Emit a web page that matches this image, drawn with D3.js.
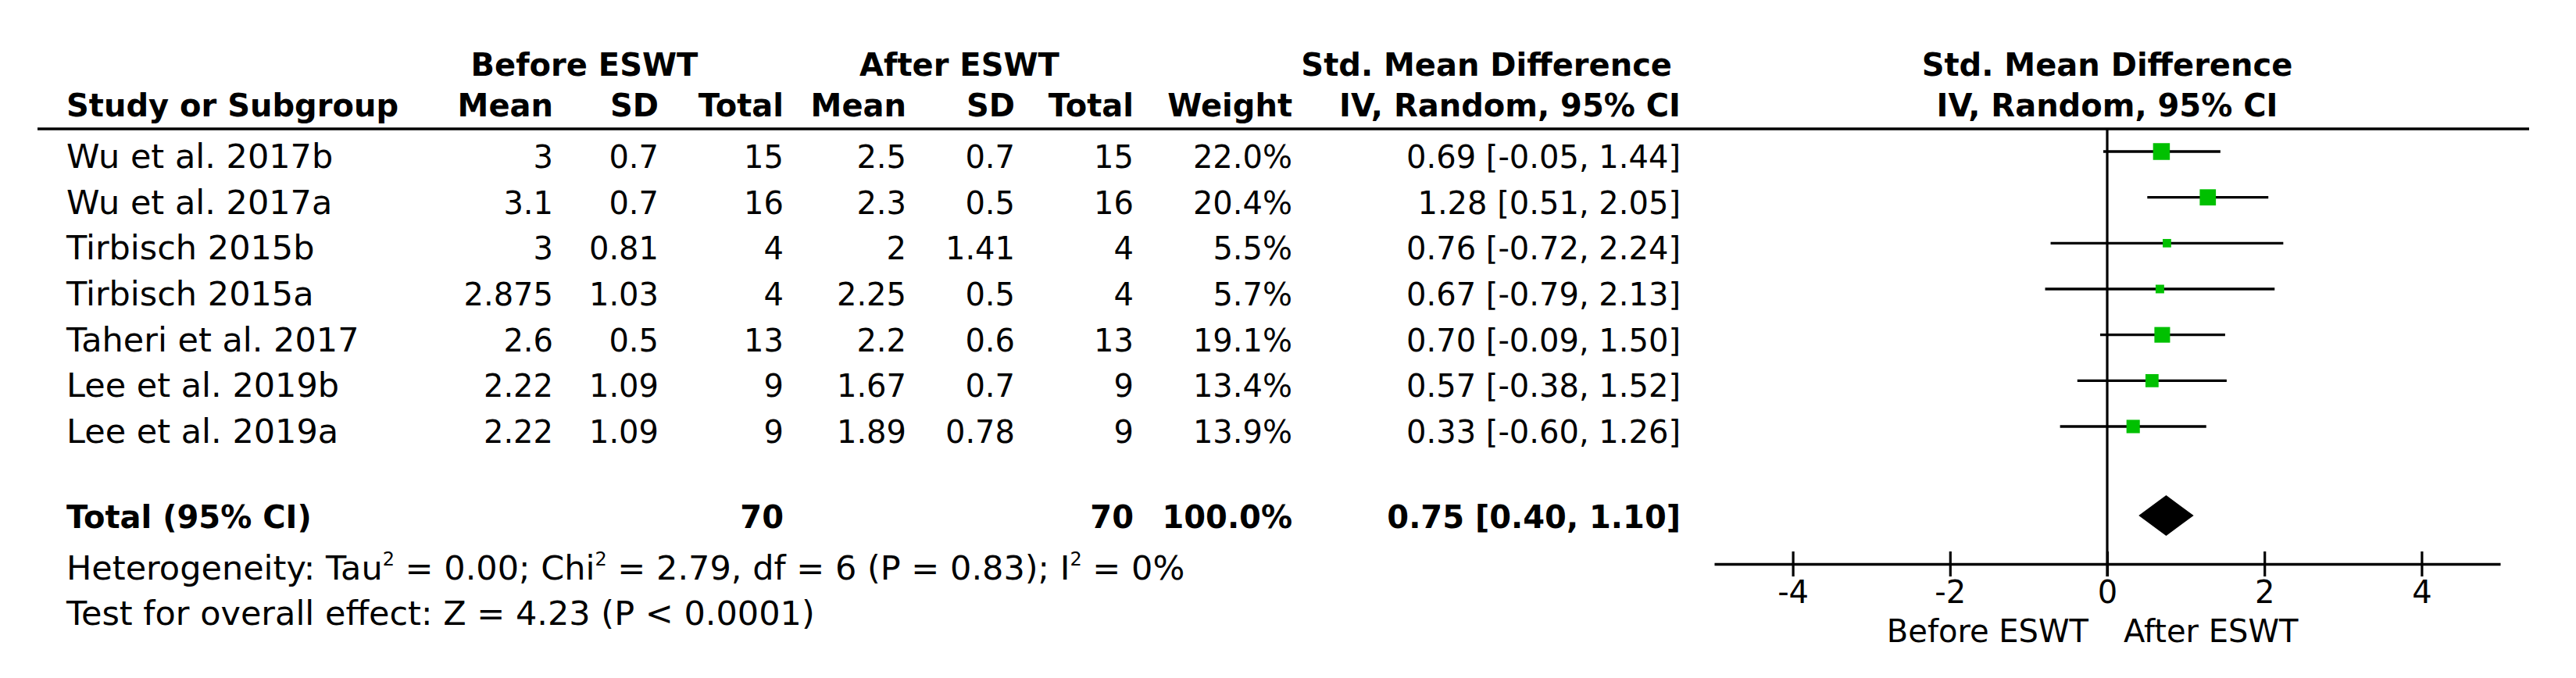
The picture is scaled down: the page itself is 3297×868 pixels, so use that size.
<!DOCTYPE html>
<html>
<head>
<meta charset="utf-8">
<script src="https://cdn.jsdelivr.net/npm/d3@7"></script>
<style>
  html, body { margin: 0; padding: 0; background: #fff; }
  svg text { font-family: "DejaVu Sans", Verdana, sans-serif; fill: #000; }
</style>
</head>
<body>
<svg id="chart" width="3297" height="868"></svg>
<script>
// ---------------- data ----------------
const studies    = ["Wu et al. 2017b", "Wu et al. 2017a", "Tirbisch 2015b", "Tirbisch 2015a", "Taheri et al. 2017", "Lee et al. 2019b", "Lee et al. 2019a"];
const beforeMean = [3, 3.1, 3, 2.875, 2.6, 2.22, 2.22];
const beforeSD   = [0.7, 0.7, 0.81, 1.03, 0.5, 1.09, 1.09];
const beforeN    = [15, 16, 4, 4, 13, 9, 9];
const afterMean  = [2.5, 2.3, 2, 2.25, 2.2, 1.67, 1.89];
const afterSD    = [0.7, 0.5, 1.41, 0.5, 0.6, 0.7, 0.78];
const afterN     = [15, 16, 4, 4, 13, 9, 9];
const weights    = [22.0, 20.4, 5.5, 5.7, 19.1, 13.4, 13.9];
const smd        = [0.69, 1.28, 0.76, 0.67, 0.70, 0.57, 0.33];
const ciLow      = [-0.05, 0.51, -0.72, -0.79, -0.09, -0.38, -0.60];
const ciHigh     = [1.44, 2.05, 2.24, 2.13, 1.50, 1.52, 1.26];
const totalBefore = 70, totalAfter = 70, totalWeight = 100.0;
const pooled = {est: 0.75, lo: 0.40, hi: 1.10};
const axisTicks = [-4, -2, 0, 2, 4];
const axisDomain = [-5, 5];
const heterogeneity = ["Heterogeneity: Tau", "2", " = 0.00; Chi", "2", " = 2.79, df = 6 (P = 0.83); I", "2", " = 0%"];
const overallTest = "Test for overall effect: Z = 4.23 (P < 0.0001)";
const favourLeft = "Before ESWT", favourRight = "After ESWT";

// ---------------- layout ----------------
const svg = d3.select("#chart");
const FS = 40;      // numbers, headers
const FS_NAME = 43; // study names and footnotes
const x = d3.scaleLinear().domain(axisDomain).range([2194, 3200]);
const rowY = d3.scalePoint().domain(studies).range([194, 546]);
const totalY = 660;
const axisY = 722;
const base = 21; // baseline offset from row centre

const cols = {
  name: 85, bMean: 708, bSD: 843, bN: 1003,
  aMean: 1160, aSD: 1299, aN: 1451, weight: 1654, smd: 2151
};

function txt(xp, yp, s, anchor, bold, fs) {
  return svg.append("text")
    .attr("x", xp).attr("y", yp)
    .attr("text-anchor", anchor || "start")
    .attr("font-size", fs || FS)
    .attr("font-weight", bold ? "bold" : "normal")
    .text(s);
}

// headers
txt(748, 97, "Before ESWT", "middle", true);
txt(1228, 97, "After ESWT", "middle", true);
txt(2140, 97, "Std. Mean Difference", "end", true);
txt(x(0), 97, "Std. Mean Difference", "middle", true);
txt(cols.name, 149, "Study or Subgroup", "start", true);
txt(cols.bMean, 149, "Mean", "end", true);
txt(cols.bSD, 149, "SD", "end", true);
txt(cols.bN, 149, "Total", "end", true);
txt(cols.aMean, 149, "Mean", "end", true);
txt(cols.aSD, 149, "SD", "end", true);
txt(cols.aN, 149, "Total", "end", true);
txt(cols.weight, 149, "Weight", "end", true);
txt(cols.smd, 149, "IV, Random, 95% CI", "end", true);
txt(x(0), 149, "IV, Random, 95% CI", "middle", true);

// header rule
svg.append("line").attr("x1", 48).attr("x2", 3237).attr("y1", 165).attr("y2", 165)
  .attr("stroke", "#000").attr("stroke-width", 3.4);

// study rows
studies.forEach((s, i) => {
  const yb = rowY(s) + base;
  txt(cols.name, yb, s, "start", false, FS_NAME);
  txt(cols.bMean, yb, String(beforeMean[i]), "end");
  txt(cols.bSD, yb, String(beforeSD[i]), "end");
  txt(cols.bN, yb, String(beforeN[i]), "end");
  txt(cols.aMean, yb, String(afterMean[i]), "end");
  txt(cols.aSD, yb, String(afterSD[i]), "end");
  txt(cols.aN, yb, String(afterN[i]), "end");
  txt(cols.weight, yb, weights[i].toFixed(1) + "%", "end");
  txt(cols.smd, yb, `${smd[i].toFixed(2)} [${ciLow[i].toFixed(2)}, ${ciHigh[i].toFixed(2)}]`, "end");
});

// total row
txt(cols.name, totalY + 16, "Total (95% CI)", "start", true);
txt(cols.bN, totalY + 16, String(totalBefore), "end", true);
txt(cols.aN, totalY + 16, String(totalAfter), "end", true);
txt(cols.weight, totalY + 16, totalWeight.toFixed(1) + "%", "end", true);
txt(cols.smd, totalY + 16, `${pooled.est.toFixed(2)} [${pooled.lo.toFixed(2)}, ${pooled.hi.toFixed(2)}]`, "end", true);

// heterogeneity with superscripts
const het = svg.append("text").attr("x", cols.name).attr("y", 742).attr("font-size", FS_NAME);
heterogeneity.forEach((p, i) => {
  if (i % 2 === 1) {
    het.append("tspan").attr("font-size", 24).attr("dy", -18).text(p);
  } else {
    het.append("tspan").attr("dy", i === 0 ? 0 : 18).text(p);
  }
});
txt(cols.name, 800, overallTest, "start", false, FS_NAME);

// ---------------- forest plot ----------------
const plot = svg.append("g");

// zero line
plot.append("line").attr("x1", x(0)).attr("x2", x(0)).attr("y1", 165).attr("y2", 738)
  .attr("stroke", "#000").attr("stroke-width", 3.2);

// CI lines
plot.selectAll("line.ci").data(studies).join("line").attr("class", "ci")
  .attr("x1", (d, i) => x(ciLow[i])).attr("x2", (d, i) => x(ciHigh[i]))
  .attr("y1", d => rowY(d)).attr("y2", d => rowY(d))
  .attr("stroke", "#000").attr("stroke-width", 3.4);

// weight squares
const size = d3.scaleSqrt().domain([0, 22]).range([0, 21.5]);
plot.selectAll("rect.box").data(studies).join("rect").attr("class", "box")
  .attr("x", (d, i) => x(smd[i]) - size(weights[i]) / 2)
  .attr("y", (d, i) => rowY(d) - size(weights[i]) / 2)
  .attr("width", (d, i) => size(weights[i]))
  .attr("height", (d, i) => size(weights[i]))
  .attr("fill", "#00c000");

// diamond
const dh = 26;
plot.append("path")
  .attr("d", `M${x(pooled.lo)},${totalY} L${x(pooled.est)},${totalY - dh} L${x(pooled.hi)},${totalY} L${x(pooled.est)},${totalY + dh} Z`)
  .attr("fill", "#000");

// axis
const axis = d3.axisBottom(x).tickValues(axisTicks).tickFormat(d => String(d)).tickSizeOuter(0).tickSizeInner(16);
const ag = plot.append("g").attr("transform", `translate(0,${axisY})`).call(axis);
ag.select(".domain").attr("stroke", "#000").attr("stroke-width", 3.4);
ag.selectAll(".tick line").attr("y1", -16).attr("y2", 16).attr("stroke", "#000").attr("stroke-width", 3.2);
ag.selectAll(".tick text").attr("y", 50).attr("dy", 0).attr("font-size", FS)
  .attr("font-family", "DejaVu Sans, Verdana, sans-serif").attr("fill", "#000");

txt(x(0) - 24, 822, favourLeft, "end");
txt(x(0) + 21, 822, favourRight, "start");
</script>
</body>
</html>
